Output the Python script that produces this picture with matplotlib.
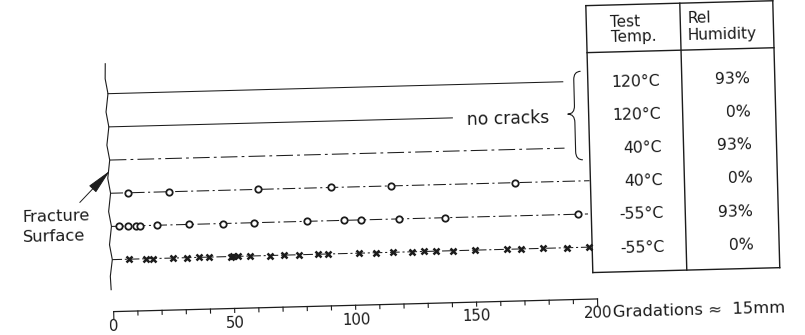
import matplotlib
matplotlib.use("Agg")
import matplotlib.pyplot as plt
from matplotlib.transforms import Affine2D
from matplotlib.path import Path
from matplotlib.patches import PathPatch, FancyArrowPatch

# conditions, top to bottom
test_temp = ["120°C", "120°C", "40°C", "40°C", "-55°C", "-55°C"]
rel_humidity = ["93%", "0%", "93%", "0%", "93%", "0%"]
# how far each line runs (gradations)
line_end = [188, 142, 188, 198, 197, 198]
# crack positions along the specimen (gradations from fracture surface)
cracks_40C_0 = [7, 24, 61, 91, 116, 167]
cracks_m55C_93 = [3, 7, 10, 12, 19, 32, 46, 59, 81, 96, 103, 119, 138, 193]
cracks_m55C_0 = [7, 14, 17, 25, 31, 36, 40, 49, 50, 52, 57, 65, 71, 77, 85, 89,
                 102, 109, 116, 124, 129, 134, 141, 150, 163, 169, 178, 188, 197]
scale_ticks = list(range(0, 201, 10))
scale_labels = [0, 50, 100, 150, 200]

plt.rcParams["lines.scale_dashes"] = False
plt.rcParams["font.family"] = "DejaVu Sans"

W, H = 805, 335
fig = plt.figure(figsize=(W / 100, H / 100), dpi=100)
ax = fig.add_axes([0, 0, 1, 1])
ax.axis("off")

# layout helpers: pixel -> gradation / row
X0, PXG, Y0, PXR = 110, 2.42, 86, 33.2
def gx(px):
    return (px - X0) / PXG
def ry(py):
    return (py - Y0) / PXR

# the scanned page is slightly rotated
tilt = Affine2D().rotate_deg_around(W / 2, H / 2, 1.5)
tr = ax.transData + tilt
ink = "#1c1c1c"

def label(x, y, s, **kw):
    kw.setdefault("fontsize", 11)
    ax.text(x, y, s, transform=tr, rotation=1.5, rotation_mode="anchor",
            color=ink, **kw)

# specimen lines
styles = ["-", "-", (0, (12, 3, 2, 3)), (0, (9, 2.5, 1.5, 2.5)),
          (0, (9, 2.5, 1.5, 2.5)), (0, (7, 2, 1.5, 2))]
for r, (end, ls) in enumerate(zip(line_end, styles)):
    ax.plot([0, end], [r, r], color=ink, lw=0.75, ls=ls, transform=tr)

ax.plot(cracks_40C_0, [3] * len(cracks_40C_0), "o", ms=4.6, mfc="white",
        mec=ink, mew=1.3, transform=tr)
ax.plot(cracks_m55C_93, [4] * len(cracks_m55C_93), "o", ms=4.6, mfc="white",
        mec=ink, mew=1.3, transform=tr)
ax.plot(cracks_m55C_0, [5] * len(cracks_m55C_0), "x", ms=3.9, mec=ink,
        mew=1.8, transform=tr)

# fracture surface edge
bx, by = [-0.8], [ry(56)]
for r in range(6):
    bx += [-1.0, 0]
    by += [r - 0.45, r]
bx += [-1.0, -0.8]
by += [5.5, ry(282)]
ax.plot(bx, by, color=ink, lw=0.8, transform=tr)

arrow = FancyArrowPatch((gx(79), ry(194)), (gx(110), ry(163)),
                        arrowstyle="-|>,head_length=1.6,head_width=0.3",
                        mutation_scale=10, color=ink, lw=0.7,
                        shrinkA=0, shrinkB=0, transform=tr)
ax.add_patch(arrow)
label(gx(21), ry(211.7), "Fracture", ha="left", va="baseline", fontsize=11.8)
label(gx(21), ry(231.7), "Surface", ha="left", va="baseline", fontsize=11.8)

# "no cracks" brace
xt, xb = gx(569), gx(583)
xm = (xt + xb) / 2
yt, ym, yb = ry(76), ry(118.5), ry(164.5)
d = 0.25
verts = [(xb, yt), (xm, yt), (xm, yt + d), (xm, ym - d), (xm, ym), (xt, ym),
         (xm, ym), (xm, ym + d), (xm, yb - d), (xm, yb), (xb, yb)]
codes = [Path.MOVETO, Path.CURVE3, Path.CURVE3, Path.LINETO, Path.CURVE3,
         Path.CURVE3, Path.CURVE3, Path.CURVE3, Path.LINETO, Path.CURVE3,
         Path.CURVE3]
ax.add_patch(PathPatch(Path(verts, codes), fill=False, ec=ink, lw=0.8,
                       transform=tr))
label(gx(468), 1.24, "no cracks", ha="left", va="baseline", fontsize=12.3)

# table
tl, tc, tr_ = gx(590), gx(684), gx(777)
ttop, thead, tbot = ry(10.5), ry(57.5), ry(277.5)
for x in (tl, tc, tr_):
    ax.plot([x, x], [ttop, tbot], color=ink, lw=1.0, transform=tr)
for y in (ttop, thead, tbot):
    ax.plot([tl, tr_], [y, y], color=ink, lw=1.0, transform=tr)
label(gx(614), ry(32), "Test", ha="left", va="baseline")
label(gx(614), ry(47.7), "Temp.", ha="left", va="baseline")
label(gx(691), ry(30.5), "Rel", ha="left", va="baseline")
label(gx(691), ry(47.8), "Humidity", ha="left", va="baseline")
for r, (t, h) in enumerate(zip(test_temp, rel_humidity)):
    label(gx(662), r + 0.19, t, ha="right", va="baseline", fontsize=11.3)
    label(gx(752), r + 0.19, h, ha="right", va="baseline", fontsize=11.3)

# length scale
ys = ry(304)
ax.plot([scale_ticks[0], scale_ticks[-1]], [ys, ys], color=ink, lw=0.9,
        transform=tr)
for t in scale_ticks:
    long_tick = t in (scale_ticks[0], scale_ticks[-1])
    ax.plot([t, t], [ys, ry(311 if long_tick else 308)], color=ink, lw=0.8,
            transform=tr)
for t in scale_labels:
    label(t, ry(323), str(t), ha="center", va="baseline", fontsize=10.8)
label(gx(609), ry(322), "Gradations ≈  15mm", ha="left", va="baseline",
      fontsize=11.8)

ax.set_xlim(gx(0), gx(W))
ax.set_ylim(ry(H), ry(0))
fig.savefig("out.png", dpi=100)
